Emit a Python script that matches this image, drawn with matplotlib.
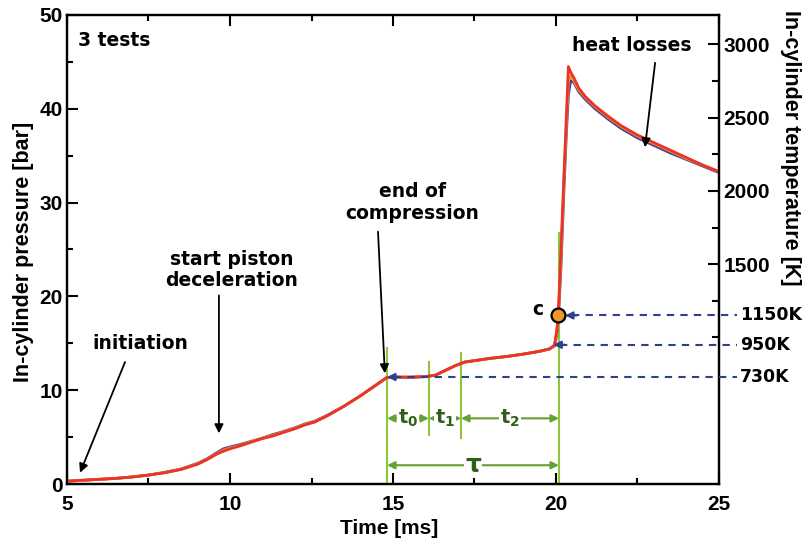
import matplotlib
matplotlib.use("Agg")
import matplotlib.pyplot as plt

# Pressure traces of three repeated RCM tests (time in ms, pressure in bar)
time_ms = [5.0, 5.5, 6.0, 6.5, 7.0, 7.5, 8.0, 8.5, 9.0,
           9.3, 9.6, 9.8, 10.0,
           10.3, 10.6, 11.0, 11.3, 11.6, 12.0,
           12.3, 12.6, 13.0, 13.5, 14.0, 14.5,
           14.8, 15.0, 15.5, 16.0,
           16.3, 16.6, 16.9, 17.2, 17.6,
           18.0, 18.5, 19.0, 19.5, 19.8,
           19.95, 20.02, 20.07, 20.15, 20.25,
           20.32, 20.38, 20.45, 20.55, 20.7,
           20.9, 21.2, 21.6, 22.0, 22.5,
           23.0, 23.5, 24.0, 24.5, 25.0]

p_test1 = [0.3, 0.4, 0.5, 0.6, 0.75, 0.95, 1.2, 1.55, 2.1,
           2.6, 3.2, 3.5, 3.75,
           4.05, 4.4, 4.85, 5.1, 5.45, 5.9,
           6.3, 6.6, 7.3, 8.3, 9.4, 10.6,
           11.35, 11.4, 11.4, 11.45,
           11.6, 12.1, 12.6, 13.0, 13.2,
           13.4, 13.6, 13.85, 14.15, 14.4,
           14.8, 16.3, 18.0, 24.8, 33.4,
           39.4, 44.5, 43.9, 43.3, 42.2,
           41.3, 40.3, 39.2, 38.2, 37.2,
           36.4, 35.6, 34.8, 34.0, 33.3]

p_test2 = [0.3, 0.4, 0.5, 0.6, 0.75, 0.95, 1.25, 1.6, 2.2,
           2.7, 3.35, 3.75, 3.95,
           4.2, 4.5, 4.9, 5.25, 5.55, 6.0,
           6.4, 6.7, 7.35, 8.3, 9.4, 10.6,
           11.3, 11.4, 11.35, 11.45,
           11.6, 12.1, 12.6, 13.0, 13.2,
           13.4, 13.6, 13.85, 14.15, 14.4,
           14.7, 15.8, 17.5, 23.0, 32.0,
           37.5, 41.5, 43.0, 42.8, 41.8,
           41.0, 40.0, 38.9, 37.9, 36.9,
           36.1, 35.3, 34.6, 33.9, 33.2]

p_test3 = [0.3, 0.4, 0.5, 0.6, 0.75, 0.95, 1.22, 1.57, 2.15,
           2.65, 3.25, 3.6, 3.85,
           4.1, 4.45, 4.9, 5.15, 5.5, 5.95,
           6.35, 6.65, 7.3, 8.3, 9.4, 10.6,
           11.3, 11.4, 11.4, 11.45,
           11.6, 12.1, 12.6, 13.0, 13.2,
           13.4, 13.6, 13.85, 14.15, 14.4,
           14.75, 16.0, 17.8, 24.0, 33.0,
           38.5, 43.0, 43.5, 43.0, 42.0,
           41.2, 40.2, 39.1, 38.1, 37.1,
           36.3, 35.5, 34.7, 34.0, 33.3]

# Phase boundaries of the delay (ms) and their labels
phase_bounds = [14.82, 16.1, 17.09, 20.09]
phase_labels = [r"$\mathbf{t_0}$", r"$\mathbf{t_1}$", r"$\mathbf{t_2}$"]
total_label = "\u03c4"

# Temperatures marked on the secondary axis
temp_marks = [730, 950, 1150]
temp_labels = ["730K", "950K", "1150K"]
temp_tips = [14.82, 19.92, 20.28]
point_c = (20.07, 1150)

RED = "#ec3426"
BLUE = "#4b3f9c"
ORANGE = "#f3962a"
GREEN_LINE = "#8ec63f"
GREEN_ARROW = "#65a030"
GREEN_TEXT = "#2f5f1c"
DASH_BLUE = "#2d3f8e"

ANN = dict(family="DejaVu Sans", weight="bold", fontsize=13.5, color="black")
AX = dict(family="Liberation Sans", weight="bold")

fig = plt.figure(figsize=(8.06, 5.41), dpi=100)
ax = fig.add_axes([67 / 806, 1 - 484 / 541, (719 - 67) / 806, (484 - 15) / 541])

ax.plot(time_ms, p_test2, color=BLUE, lw=2.0, zorder=3)
ax.plot(time_ms, p_test3, color=ORANGE, lw=2.0, zorder=4)
ax.plot(time_ms, p_test1, color=RED, lw=2.0, zorder=5)

ax.set_xlim(5, 25)
ax.set_ylim(0, 50)
ax.set_xticks([5, 10, 15, 20, 25])
ax.set_xticks([7.5, 12.5, 17.5, 22.5], minor=True)
ax.set_yticks([0, 10, 20, 30, 40, 50])
ax.set_yticks([5, 15, 25, 35, 45], minor=True)
ax.tick_params(which="both", direction="in", top=True, right=False, width=1.5)
ax.tick_params(which="major", length=8)
ax.tick_params(which="minor", length=4)
ax.tick_params(axis="x", pad=8)
ax.tick_params(axis="y", pad=3)
for lab in ax.get_xticklabels() + ax.get_yticklabels():
    lab.set_fontfamily("Liberation Sans")
    lab.set_fontweight("bold")
    lab.set_fontsize(15)
for s in ax.spines.values():
    s.set_linewidth(1.6)

# Secondary temperature axis
ax2 = ax.twinx()
ax2.set_ylim(0, 3200)
ax2.set_yticks([1500, 2000, 2500, 3000])
ax2.set_yticks([1000, 1250, 1750, 2250, 2750], minor=True)
ax2.tick_params(which="both", direction="in", width=1.5, pad=3)
ax2.tick_params(which="major", length=8)
ax2.tick_params(which="minor", length=5)
for lab in ax2.get_yticklabels():
    lab.set_fontfamily("Liberation Sans")
    lab.set_fontweight("bold")
    lab.set_fontsize(15)
for s in ax2.spines.values():
    s.set_linewidth(1.6)

# Axis titles
fig.text(389 / 806, 1 - 528 / 541, "Time [ms]", ha="center", va="center", fontsize=15, **AX)
fig.text(24 / 806, 1 - 252 / 541, "In-cylinder pressure [bar]", ha="center", va="center",
         rotation=90, fontsize=15.5, **AX)
fig.text(790 / 806, 1 - 148 / 541, "In-cylinder temperature [K]", ha="center", va="center",
         rotation=270, fontsize=15.5, **AX)

# Phase markers
ax.plot([phase_bounds[0]] * 2, [0, 14.5], color=GREEN_LINE, lw=1.5, zorder=2, clip_on=False)
ax.plot([phase_bounds[1]] * 2, [5.2, 13.0], color=GREEN_LINE, lw=1.5, zorder=2)
ax.plot([phase_bounds[2]] * 2, [4.9, 14.0], color=GREEN_LINE, lw=1.5, zorder=2)
ax.plot([phase_bounds[3]] * 2, [0, 26.8], color=GREEN_LINE, lw=1.5, zorder=2, clip_on=False)

arrow_g = dict(arrowstyle="<|-|>", color=GREEN_ARROW, lw=1.5, mutation_scale=11,
               shrinkA=0, shrinkB=0)
for a, b, lab in zip(phase_bounds[:-1], phase_bounds[1:], phase_labels):
    ax.annotate("", xy=(a, 7.0), xytext=(b, 7.0), arrowprops=arrow_g, zorder=6)
    ax.text((a + b) / 2, 7.0, lab, ha="center", va="center", fontsize=14,
            color=GREEN_TEXT, zorder=7,
            bbox=dict(facecolor="white", edgecolor="none", pad=0.5))
ax.annotate("", xy=(phase_bounds[0], 2.0), xytext=(phase_bounds[-1], 2.0),
            arrowprops=arrow_g, zorder=6)
ax.text((phase_bounds[0] + phase_bounds[-1]) / 2, 2.0, total_label, ha="center", va="center",
        fontsize=18, color=GREEN_TEXT, family="DejaVu Sans", weight="bold", zorder=7,
        bbox=dict(facecolor="white", edgecolor="none", pad=0.5))

# Temperature levels
for T, lab, tip in zip(temp_marks, temp_labels, temp_tips):
    ax2.plot([tip + 0.2, 25.55], [T, T], ls=(0, (3.5, 3)), color=DASH_BLUE, lw=1.5,
             clip_on=False, zorder=6)
    ax2.annotate("", xy=(tip, T), xytext=(tip + 0.35, T),
                 arrowprops=dict(arrowstyle="-|>", color=DASH_BLUE, lw=1.5,
                                 mutation_scale=11, shrinkA=0, shrinkB=0), zorder=6)
    ax2.text(25.65, T, lab, ha="left", va="center", clip_on=False,
             family="DejaVu Sans", weight="bold", fontsize=12.5)

ax2.plot([point_c[0]], [point_c[1]], "o", ms=10, mfc=ORANGE, mec="black", mew=1.6, zorder=8)
ax2.text(19.45, 1190, "c", ha="center", va="center", **ANN)

# Annotations on the pressure trace
ax.text(5.34, 47.3, "3 tests", ha="left", va="center", **ANN)
ax.text(22.33, 46.8, "heat losses", ha="center", va="center", **ANN)
ax.text(15.6, 30.0, "end of\ncompression", ha="center", va="center", linespacing=1.15, **ANN)
ax.text(10.06, 22.8, "start piston\ndeceleration", ha="center", va="center",
        linespacing=1.15, **ANN)
ax.text(7.24, 15.0, "initiation", ha="center", va="center", **ANN)

arrow_k = dict(arrowstyle="-|>", color="black", lw=1.3, mutation_scale=13, shrinkA=0, shrinkB=0)
ax.annotate("", xy=(5.4, 1.2), xytext=(6.78, 13.0), arrowprops=arrow_k, zorder=6)
ax.annotate("", xy=(9.66, 5.4), xytext=(9.66, 20.1), arrowprops=arrow_k, zorder=6)
ax.annotate("", xy=(14.75, 11.8), xytext=(14.54, 26.9), arrowprops=arrow_k, zorder=6)
ax.annotate("", xy=(22.73, 35.9), xytext=(23.04, 44.9), arrowprops=arrow_k, zorder=6)

fig.savefig("out.png", dpi=100)
